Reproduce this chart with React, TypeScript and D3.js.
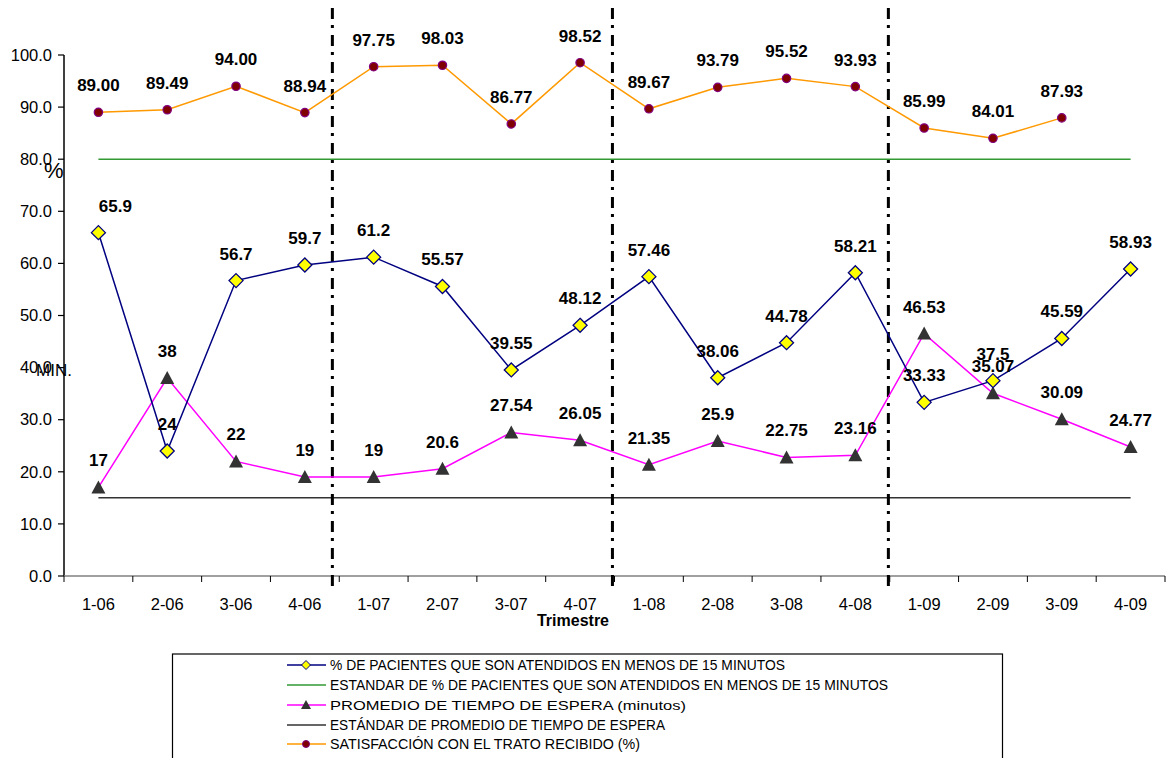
import React from "react";
import * as d3 from "d3";

const categories = ["1-06","2-06","3-06","4-06","1-07","2-07","3-07","4-07","1-08","2-08","3-08","4-08","1-09","2-09","3-09","4-09"];
const pctAtendidos = [65.9, 24, 56.7, 59.7, 61.2, 55.57, 39.55, 48.12, 57.46, 38.06, 44.78, 58.21, 33.33, 37.5, 45.59, 58.93];
const pctLabels = ["65.9","24","56.7","59.7","61.2","55.57","39.55","48.12","57.46","38.06","44.78","58.21","33.33","37.5","45.59","58.93"];
const tiempoEspera = [17, 38, 22, 19, 19, 20.6, 27.54, 26.05, 21.35, 25.9, 22.75, 23.16, 46.53, 35.07, 30.09, 24.77];
const tiempoLabels = ["17","38","22","19","19","20.6","27.54","26.05","21.35","25.9","22.75","23.16","46.53","35.07","30.09","24.77"];
const satisfaccion = [89.0, 89.49, 94.0, 88.94, 97.75, 98.03, 86.77, 98.52, 89.67, 93.79, 95.52, 93.93, 85.99, 84.01, 87.93];
const satLabels = ["89.00","89.49","94.00","88.94","97.75","98.03","86.77","98.52","89.67","93.79","95.52","93.93","85.99","84.01","87.93"];
const estandarPct = 80;
const estandarTiempo = 15;
const yTicks = [0, 10, 20, 30, 40, 50, 60, 70, 80, 90, 100];
const dividers = [3.4, 7.47, 11.48];
const legendItems = [
  "% DE PACIENTES QUE SON ATENDIDOS EN MENOS DE 15 MINUTOS",
  "ESTANDAR DE % DE PACIENTES QUE SON ATENDIDOS EN MENOS DE 15 MINUTOS",
  "PROMEDIO DE TIEMPO DE ESPERA (minutos)",
  "ESTÁNDAR DE PROMEDIO DE TIEMPO DE ESPERA",
  "SATISFACCIÓN CON EL TRATO RECIBIDO (%)",
];

const FONT = "Arial, 'Liberation Sans', sans-serif";
const W = 1167, H = 758;
const left = 64, right = 1165, top = 55, bottom = 576;

export default function App() {
  const x = d3.scaleBand<string>().domain(categories).range([left, right]);
  const step = x.step();
  const cx = (i: number) => (x(categories[i]) as number) + step / 2;
  const y = d3.scaleLinear().domain([0, 100]).range([bottom, top]);
  const xIdx = d3.scaleLinear().domain([0, categories.length - 1]).range([cx(0), cx(categories.length - 1)]);

  const line = d3.line<number>().x((_, i) => cx(i)).y((d) => y(d));
  const diamond = (px: number, py: number) => `M${px},${py - 7}L${px + 7},${py}L${px},${py + 7}L${px - 7},${py}Z`;
  const tri = (px: number, py: number) => `M${px},${py - 7}L${px + 7},${py + 6}L${px - 7},${py + 6}Z`;

  const lblStyle: React.CSSProperties = { fontFamily: FONT, fontWeight: "bold", fontSize: 17, fill: "#000" };
  const legendWidths = [455, 558, 356, 335, 310];
  const legendFont = [14, 14, 13, 14, 14];
  const legendY = [665, 685, 705, 725, 744];

  return (
    <svg width={W} height={H} style={{ position: "absolute", left: 0, top: 0, background: "#fff" }}>
      <rect x={0} y={0} width={W} height={H} fill="#fff" />
      {/* y axis */}
      <line x1={left} x2={left} y1={top} y2={bottom} stroke="#000" strokeWidth={1.5} />
      {yTicks.map((t) => (
        <g key={t}>
          <line x1={left - 6} x2={left} y1={y(t)} y2={y(t)} stroke="#000" strokeWidth={1.2} />
          <text x={52} y={y(t)} dy="0.35em" textAnchor="end" style={{ fontFamily: FONT, fontSize: 16.5 }}>{t.toFixed(1)}</text>
        </g>
      ))}
      {/* x axis */}
      <line x1={left} x2={right} y1={bottom} y2={bottom} stroke="#808080" strokeWidth={1.5} />
      {d3.range(categories.length + 1).map((i) => (
        <line key={i} x1={left + i * step} x2={left + i * step} y1={bottom} y2={bottom + 6} stroke="#000" strokeWidth={1} />
      ))}
      {categories.map((c, i) => (
        <text key={c} x={cx(i)} y={604} dy="0.35em" textAnchor="middle" style={{ fontFamily: FONT, fontSize: 16.5 }}>{c}</text>
      ))}
      <text x={573} y={620} dy="0.35em" textAnchor="middle" style={{ fontFamily: FONT, fontSize: 16, fontWeight: "bold" }}>Trimestre</text>
      <text x={44} y={170} dy="0.35em" style={{ fontFamily: FONT, fontSize: 22 }}>%</text>
      <text x={36} y={370} dy="0.35em" style={{ fontFamily: FONT, fontSize: 17 }}>MIN.</text>

      {/* standards */}
      <line x1={cx(0)} x2={cx(categories.length - 1)} y1={y(estandarPct)} y2={y(estandarPct)} stroke="#339933" strokeWidth={1.5} />
      <line x1={cx(0)} x2={cx(categories.length - 1)} y1={y(estandarTiempo)} y2={y(estandarTiempo)} stroke="#333333" strokeWidth={1.5} />

      {/* dividers */}
      {dividers.map((d, i) => (
        <line key={i} x1={xIdx(d)} x2={xIdx(d)} y1={8} y2={592} stroke="#000" strokeWidth={3} strokeDasharray="11 6 3 7" />
      ))}

      {/* series lines */}
      <path d={line(satisfaccion) as string} fill="none" stroke="#FF9900" strokeWidth={1.5} />
      <path d={line(tiempoEspera) as string} fill="none" stroke="#FF00FF" strokeWidth={1.5} />
      <path d={line(pctAtendidos) as string} fill="none" stroke="#000080" strokeWidth={1.5} />

      {/* markers */}
      {satisfaccion.map((v, i) => (
        <circle key={"s" + i} cx={cx(i)} cy={y(v)} r={4.2} fill="#800000" stroke="#800080" strokeWidth={1.2} />
      ))}
      {tiempoEspera.map((v, i) => (
        <path key={"t" + i} d={tri(cx(i), y(v))} fill="#333333" />
      ))}
      {pctAtendidos.map((v, i) => (
        <path key={"p" + i} d={diamond(cx(i), y(v))} fill="#FFFF00" stroke="#000080" strokeWidth={1.3} />
      ))}

      {/* labels */}
      {satisfaccion.map((v, i) => (
        <text key={"sl" + i} x={cx(i)} y={y(v) - 27} dy="0.35em" textAnchor="middle" style={lblStyle}>{satLabels[i]}</text>
      ))}
      {tiempoEspera.map((v, i) => (
        <text key={"tl" + i} x={cx(i)} y={y(v) - 27} dy="0.35em" textAnchor="middle" style={lblStyle}>{tiempoLabels[i]}</text>
      ))}
      {pctAtendidos.map((v, i) => (
        <text key={"pl" + i} x={cx(i) + (i === 0 ? 17 : 0)} y={y(v) - 27} dy="0.35em" textAnchor="middle" style={lblStyle}>{pctLabels[i]}</text>
      ))}

      {/* legend */}
      <rect x={172.5} y={654} width={830} height={120} fill="#fff" stroke="#000" strokeWidth={1.2} />
      {legendItems.map((t, i) => {
        const ly = legendY[i];
        const colors = ["#000080", "#339933", "#FF00FF", "#333333", "#FF9900"];
        return (
          <g key={t}>
            <line x1={287} x2={326} y1={ly} y2={ly} stroke={colors[i]} strokeWidth={1.5} />
            {i === 0 && <path d={`M306,${ly - 4.5}L310.5,${ly}L306,${ly + 4.5}L301.5,${ly}Z`} fill="#FFFF00" stroke="#000080" strokeWidth={1} />}
            {i === 2 && <path d={`M306,${ly - 5}L311,${ly + 4}L301,${ly + 4}Z`} fill="#333333" />}
            {i === 4 && <circle cx={306} cy={ly} r={3.5} fill="#800000" stroke="#800080" strokeWidth={1} />}
            <text x={330} y={ly} dy="0.35em" textLength={legendWidths[i]} lengthAdjust="spacingAndGlyphs" style={{ fontFamily: FONT, fontSize: legendFont[i] }}>{t}</text>
          </g>
        );
      })}
    </svg>
  );
}
